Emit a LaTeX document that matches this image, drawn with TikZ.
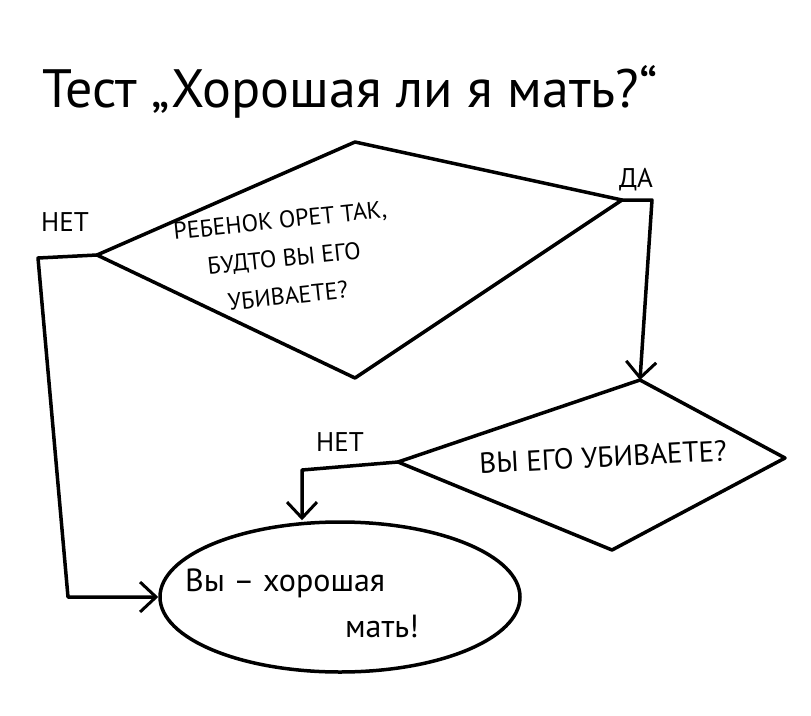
\documentclass[tikz,border=0pt]{standalone}
\usepackage{fontspec}
\setmainfont{PT Sans}
\usetikzlibrary{arrows.meta,shapes.geometric}

\begin{document}
\begin{tikzpicture}[x=1pt,y=-1pt,line width=3.5pt,line join=round,
    flow/.style={-{Straight Barb[length=16pt,width=30pt,line width=3pt]}},
    answer/.style={font=\fontsize{27}{30}\selectfont},
    question/.style={font=\fontsize{24}{38}\selectfont,align=center}]
    \useasboundingbox (0,0) rectangle (811,715);

    \node (title) at (350,92) {\fontsize{54}{60}\selectfont Тест „Хорошая ли я мать?“};

    \coordinate (q1t) at (355,142);
    \coordinate (q1r) at (622,200);
    \coordinate (q1b) at (355,378);
    \coordinate (q1l) at (97,255);
    \draw (q1t) -- (q1r) -- (q1b) -- (q1l) -- cycle;
    \node[question,rotate=6] (q1) at (284,258) {РЕБЕНОК ОРЕТ ТАК,\\БУДТО ВЫ ЕГО\\УБИВАЕТЕ?};

    \coordinate (q2t) at (640,380);
    \coordinate (q2r) at (785,458);
    \coordinate (q2b) at (612,550);
    \coordinate (q2l) at (398,462);
    \draw (q2t) -- (q2r) -- (q2b) -- (q2l) -- cycle;
    \node[question,font=\fontsize{29}{32}\selectfont,rotate=3] (q2) at (603,457) {ВЫ ЕГО УБИВАЕТЕ?};

    \node[draw,ellipse,minimum width=360pt,minimum height=150pt] (good) at (340,597) {};
    \node[question,font=\fontsize{32}{46}\selectfont,align=left] (goodtext) at (302,603) {Вы – хорошая\\\hspace*{5em}мать!};

    \node[answer] (no1) at (65,222) {НЕТ};
    \node[answer] (yes1) at (636,180) {ДА};
    \node[answer] (no2) at (340,442) {НЕТ};

    \coordinate (q1no) at (38,258);
    \coordinate (q1turn) at (68,597);
    \coordinate (q1yes) at (652,200);
    \coordinate (q2no) at (302,470);

    \draw[flow] (q1l) -- (q1no) -- (q1turn) -- (good.west);
    \draw[flow] (q1r) -- (q1yes) -- (q2t);
    \draw[flow] (q2l) -- (q2no) -- (q2no |- good.north);
\end{tikzpicture}
\end{document}
